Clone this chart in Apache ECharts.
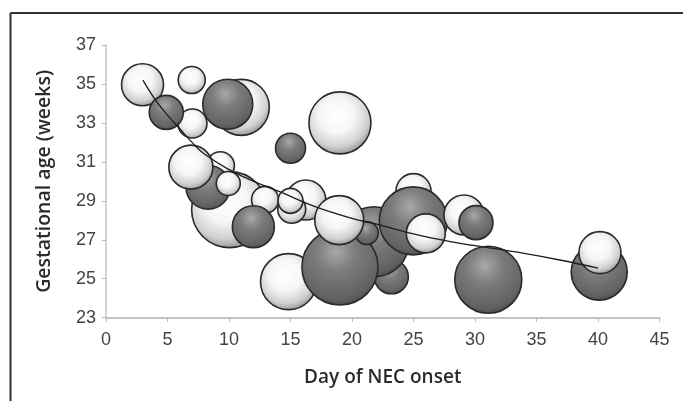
<!DOCTYPE html>
<html>
<head>
<meta charset="utf-8">
<script src="https://cdn.jsdelivr.net/npm/echarts@6/dist/echarts.min.js"></script>
<style>html,body{margin:0;padding:0;background:#fff}#c{width:683px;height:401px}</style>
</head>
<body>
<div id="c"></div>
<script>
// Bubble data (drawing order: first = back, last = front)
const days      = [11.0, 9.9, 7.03, 2.97, 4.9, 6.97, 10.05, 9.3, 8.3, 6.9, 9.94, 12.93, 11.98, 14.84, 16.24, 15.1, 15.0, 15.0, 19.02, 23.2, 21.8, 19.02, 21.2, 18.96, 25.0, 24.98, 26.0, 29.1, 30.08, 31.08, 40.1, 40.16];
const gestAge   = [33.8, 33.96, 32.97, 34.96, 33.54, 35.2, 28.55, 30.8, 29.7, 30.73, 29.89, 29.05, 27.67, 24.85, 29.04, 28.57, 29.0, 31.7, 33.0, 25.1, 26.9, 25.6, 27.35, 28.01, 29.5, 27.97, 27.33, 28.27, 27.88, 24.95, 25.34, 26.34];
const bubbleRadius = [28, 25, 14.5, 21, 17, 13.5, 38, 14, 22, 22, 12, 13.5, 21, 28, 20, 14, 12.5, 15, 31, 17, 35, 38, 11.5, 24.5, 17.5, 34, 19.5, 20, 17, 33.5, 28, 21];
const group     = ['light','dark','light','light','dark','light','light','light','dark','light','light','light','dark','light','light','light','light','dark','light','dark','dark','dark','dark','light','light','dark','light','light','dark','dark','dark','light'];

// Trend curve
const trendDays = [3, 4, 5, 6, 7, 8, 10, 12, 14, 17, 20, 22, 25, 28, 30, 34, 37, 40];
const trendAge  = [35.2, 34.2, 33.4, 32.7, 32.0, 31.4, 30.6, 30.0, 29.5, 28.7, 28.1, 27.8, 27.3, 26.9, 26.7, 26.3, 25.95, 25.55];

const xTickMin = 0, xTickMax = 45, xTickStep = 5;
const yTickMin = 23, yTickMax = 37, yTickStep = 2;

const lightFill = {
  type: 'radial', x: 0.45, y: 0.38, r: 0.62,
  colorStops: [
    {offset: 0, color: '#ffffff'},
    {offset: 0.45, color: '#f6f6f6'},
    {offset: 0.8, color: '#d0d0d0'},
    {offset: 1, color: '#999999'}
  ]
};
const darkFill = {
  type: 'radial', x: 0.45, y: 0.3, r: 0.75,
  colorStops: [
    {offset: 0, color: '#a8a8a8'},
    {offset: 0.35, color: '#7c7c7c'},
    {offset: 0.8, color: '#626262'},
    {offset: 1, color: '#454545'}
  ]
};

const bubbleData = days.map((d, i) => ({
  value: [d, gestAge[i], bubbleRadius[i]],
  itemStyle: { color: group[i] === 'dark' ? darkFill : lightFill }
}));

const chart = echarts.init(document.getElementById('c'), null, {renderer: 'canvas'});
chart.setOption({
  animation: false,
  backgroundColor: '#fff',
  grid: { left: 106, top: 45, right: 23.5, bottom: 83.3, containLabel: false },
  xAxis: {
    type: 'value', min: xTickMin, max: xTickMax, interval: xTickStep,
    name: 'Day of NEC onset', nameLocation: 'middle', nameGap: 50,
    nameTextStyle: { fontFamily: 'Open Sans', fontSize: 19, color: '#2b2b2b', fontWeight: 600 },
    axisLine: { lineStyle: { color: '#c4c4c4', width: 2 } },
    axisTick: { show: true, length: 4, lineStyle: { color: '#b8b8b8', width: 1 } },
    axisLabel: { margin: 13, fontFamily: 'Liberation Sans', fontSize: 18, color: '#444' },
    splitLine: { show: false }
  },
  yAxis: {
    type: 'value', min: yTickMin, max: yTickMax, interval: yTickStep,
    name: 'Gestational age (weeks)', nameLocation: 'middle', nameGap: 52, nameRotate: 90,
    nameTextStyle: { fontFamily: 'Open Sans', fontSize: 19.5, color: '#2b2b2b', fontWeight: 600 },
    axisLine: { show: true, lineStyle: { color: '#c4c4c4', width: 1.5 } },
    axisTick: { show: true, length: 4, lineStyle: { color: '#b8b8b8', width: 1 } },
    axisLabel: { margin: 10, fontFamily: 'Liberation Sans', fontSize: 18, color: '#444' },
    splitLine: { show: false }
  },
  graphic: [
    { type: 'line', shape: { x1: 10.5, y1: 13, x2: 683, y2: 13 }, style: { stroke: '#333', lineWidth: 2 } },
    { type: 'line', shape: { x1: 10.5, y1: 13, x2: 10.5, y2: 401 }, style: { stroke: '#333', lineWidth: 2 } }
  ],
  series: [
    {
      type: 'scatter',
      data: bubbleData,
      symbolSize: v => v[2] * 2,
      clip: false,
      itemStyle: { borderColor: '#2a2a2a', borderWidth: 1.6, opacity: 1 },
      emphasis: { disabled: true },
      z: 2
    },
    {
      type: 'line',
      data: trendDays.map((d, i) => [d, trendAge[i]]),
      smooth: 0.4,
      showSymbol: false,
      lineStyle: { color: '#1e1e1e', width: 1.3 },
      z: 5
    }
  ]
});
</script>
</body>
</html>
